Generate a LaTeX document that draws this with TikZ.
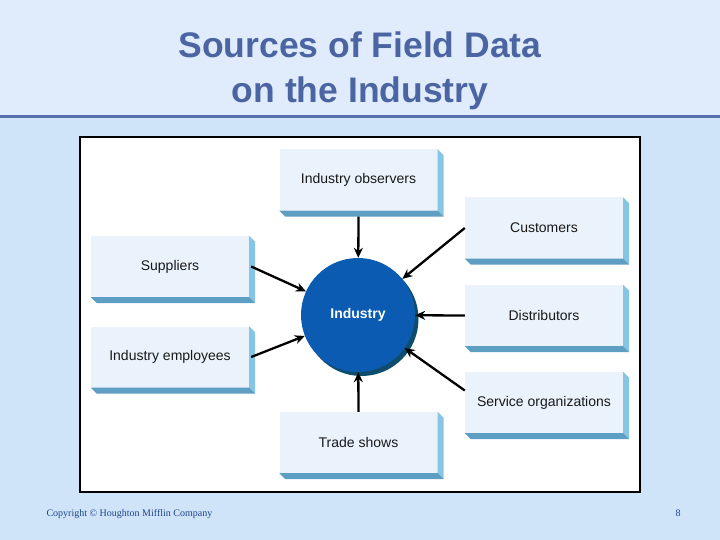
\documentclass[tikz,border=0pt]{standalone}
\usepackage{fontspec}
\setmainfont{Liberation Sans}
\newfontfamily\footfont{Liberation Serif}
\usetikzlibrary{arrows.meta,calc}
\definecolor{topbg}{HTML}{E0ECFB}
\definecolor{lowbg}{HTML}{CFE3F9}
\definecolor{rulecol}{HTML}{5570AC}
\definecolor{titlecol}{HTML}{4A65A2}
\definecolor{faceblue}{HTML}{EAF2FB}
\definecolor{sideblue}{HTML}{86C6E4}
\definecolor{bottomblue}{HTML}{5E9EC2}
\definecolor{circblue}{HTML}{0B5BB3}
\definecolor{circshadow}{HTML}{0E4C6C}
\definecolor{footcol}{HTML}{1D4688}
\tikzset{
  srcbox/.style={rectangle, fill=faceblue, minimum width=158pt, minimum height=61pt,
    inner sep=0pt, font=\fontsize{14}{16}\selectfont, text=black!90},
  hub/.style={circle, fill=circblue, minimum size=114pt, inner sep=0pt,
    font=\bfseries\fontsize{14}{16}\selectfont, text=white},
  feed/.style={line width=2.3pt, -{Stealth[length=10pt,width=9pt]}},
  titletext/.style={font=\bfseries\fontsize{35.5}{40}\selectfont, text=titlecol, anchor=base},
}
\begin{document}
\begin{tikzpicture}[x=1pt,y=-1pt]
\useasboundingbox (0,0) rectangle (720,540);
\fill[lowbg] (0,0) rectangle (720,540);
\fill[topbg] (0,0) rectangle (720,116);
\draw[rulecol, line width=3pt] (0,117) -- (720,117);
\node[titletext] (t1) at (360,58) {Sources of Field Data};
\node[titletext] (t2) at (360,103) {on the Industry};
\draw[fill=white, line width=2pt] (80,137) rectangle (640,492);
% boxes
\node[srcbox] (obs)  at (358.5,180)  {Industry observers};
\node[srcbox] (cust) at (544,228)    {Customers};
\node[srcbox] (sup)  at (170,266.5)  {Suppliers};
\node[srcbox] (dist) at (544,315.5)  {Distributors};
\node[srcbox] (emp)  at (170,357)    {Industry employees};
\node[srcbox] (serv) at (544,402.5)  {Service organizations};
\node[srcbox] (trade) at (358.5,442.5) {Trade shows};
\foreach \n in {obs,cust,sup,dist,emp,serv,trade}{
  \fill[sideblue] (\n.north east) -- ++(6,6) -- ($(\n.south east)+(6,6)$) -- (\n.south east) -- cycle;
  \fill[bottomblue] (\n.south west) -- (\n.south east) -- ++(6,6) -- ($(\n.south west)+(6,6)$) -- cycle;
}
% hub
\fill[circshadow] (361.5,319) circle (57pt);
\node[hub] (ind) at (358,315) {Industry};
% connectors
\draw[feed] ([yshift=-6pt]obs.south) -- (ind);
\draw[feed] (cust.west) -- (ind);
\draw[feed] ([xshift=2pt]sup.east) -- (ind);
\draw[feed] ([xshift=2pt]emp.east) -- (ind);
\draw[feed] (dist.west) -- (ind);
\draw[feed] ([yshift=12pt]serv.west) -- (ind);
\draw[feed] (trade.north) -- (ind);
% footer
\node[anchor=base west, font=\footfont\fontsize{10}{12}\selectfont, text=footcol] (copy) at (43,516) {Copyright \textcopyright{} Houghton Mifflin Company};
\node[anchor=base west, font=\footfont\fontsize{10}{12}\selectfont, text=footcol] (page) at (672,516) {8};
\end{tikzpicture}
\end{document}
